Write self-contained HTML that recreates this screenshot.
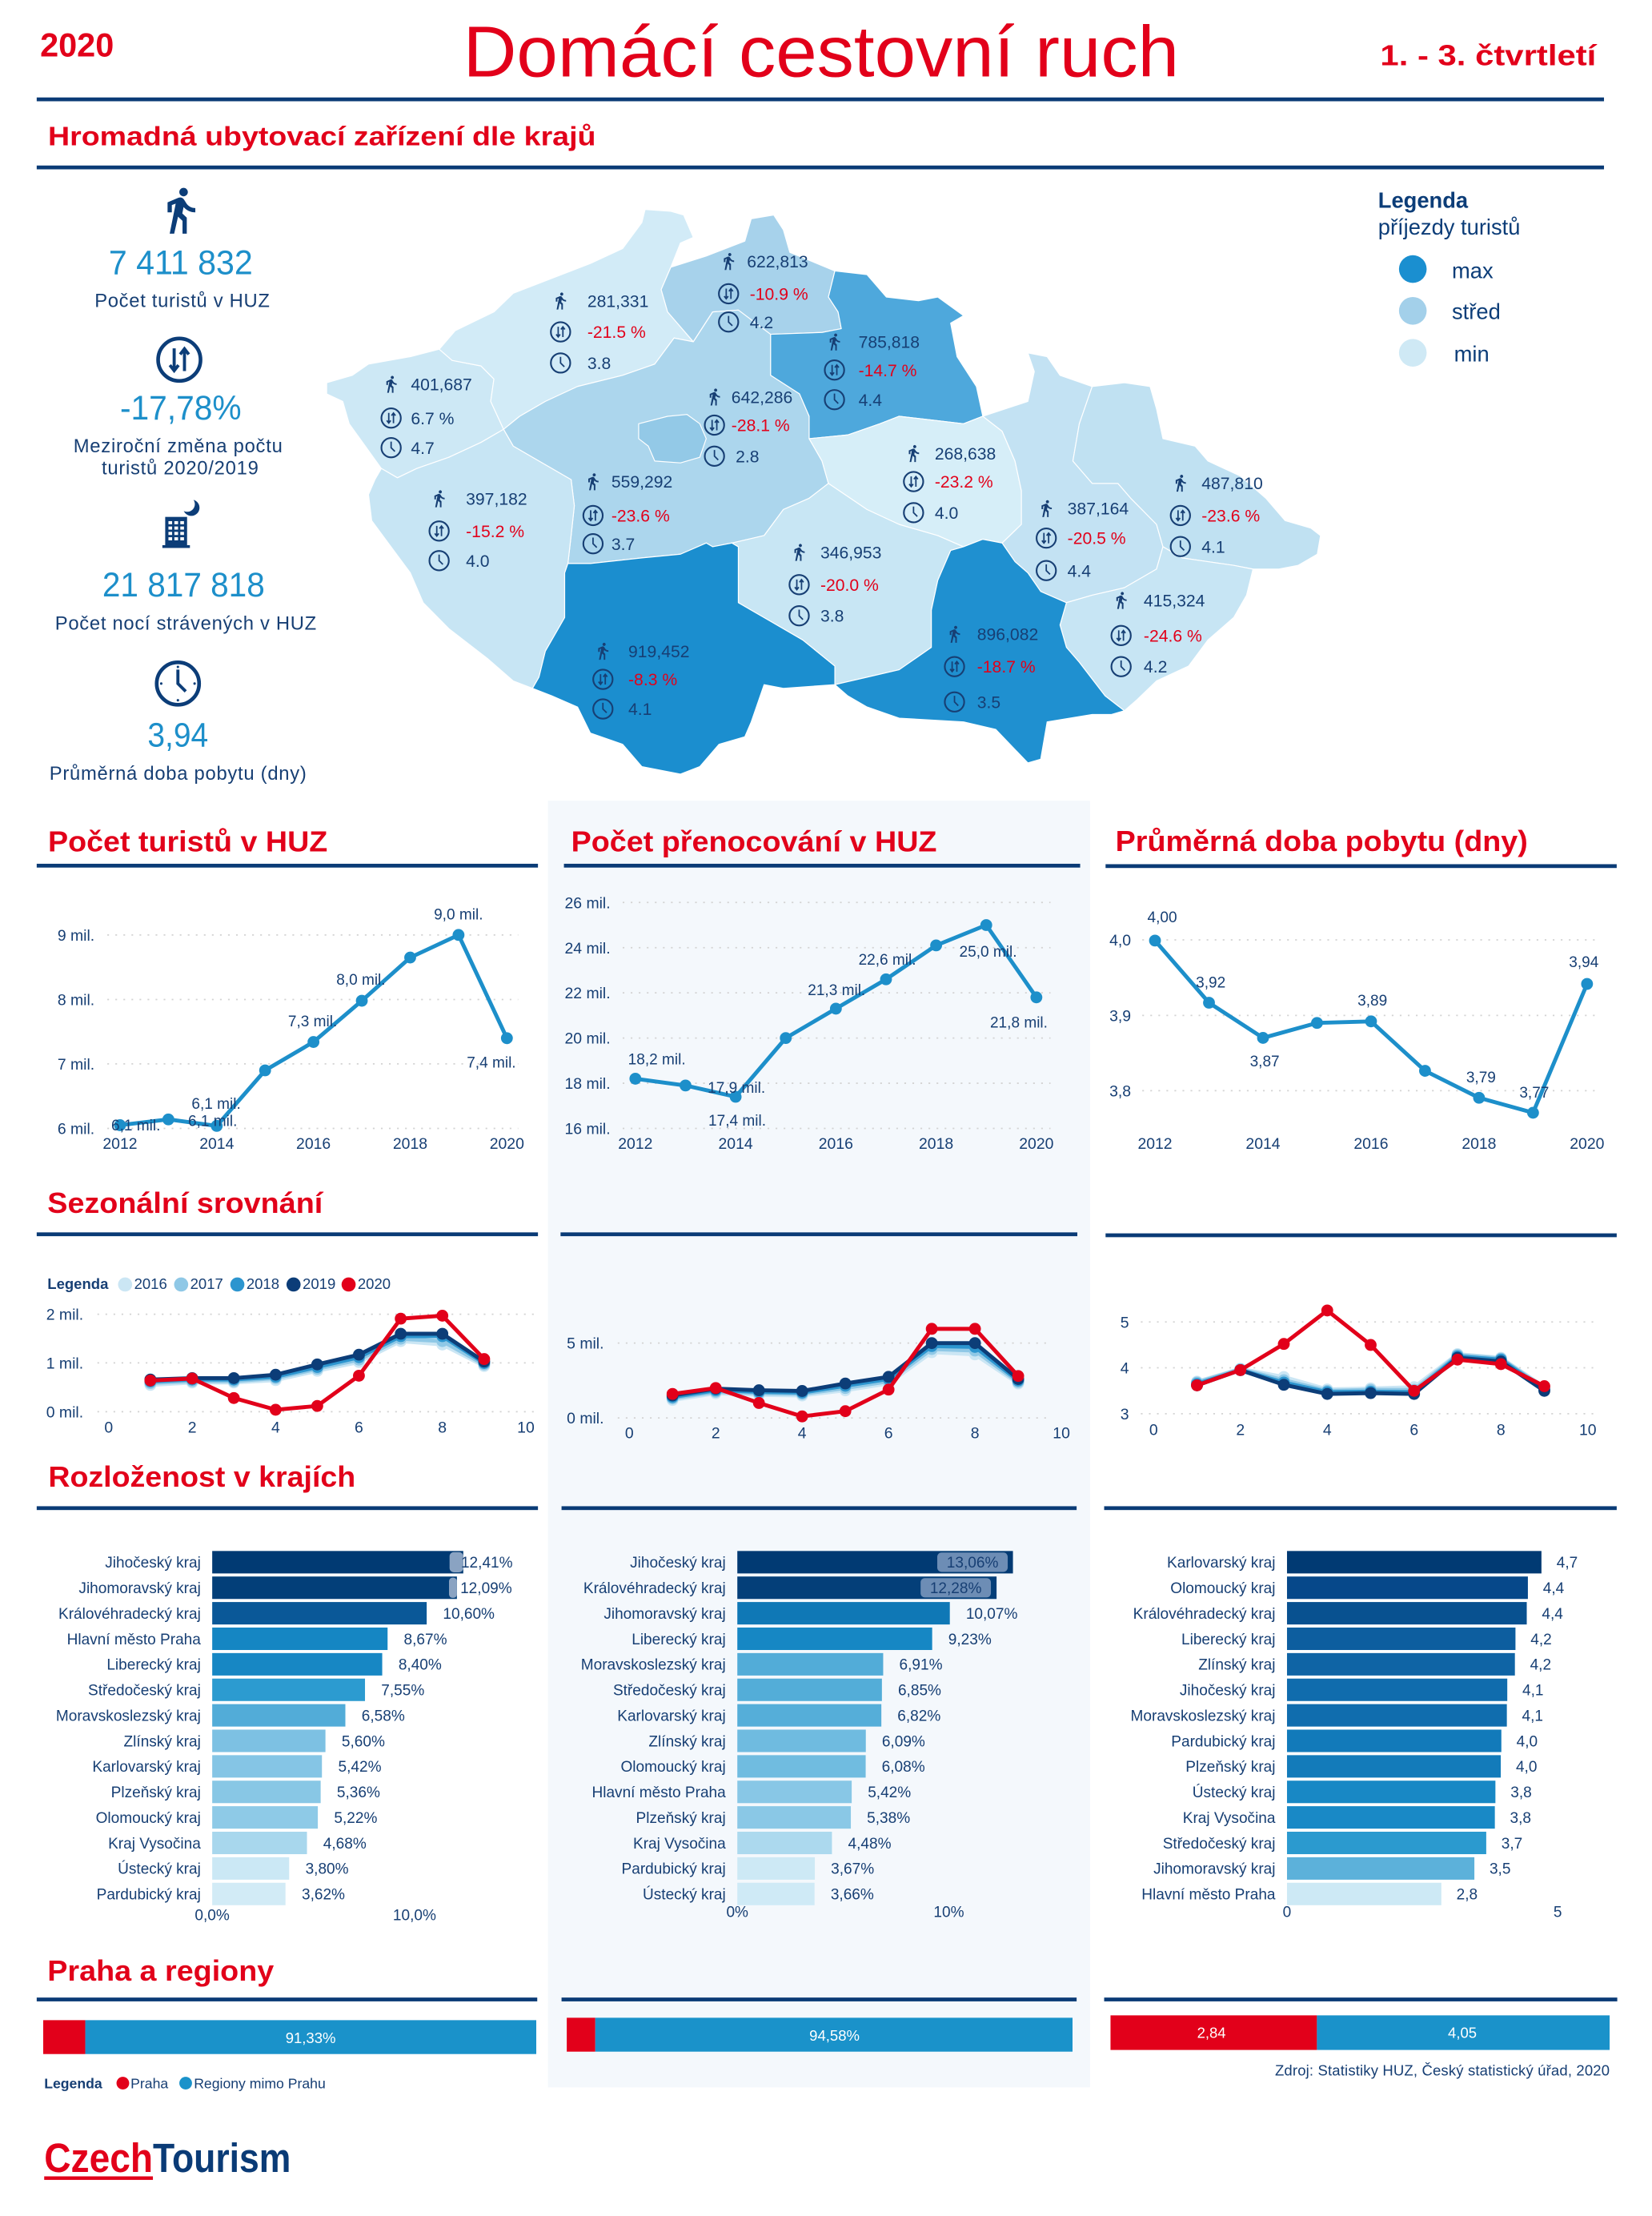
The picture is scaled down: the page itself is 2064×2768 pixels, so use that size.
<!DOCTYPE html>
<html><head><meta charset="utf-8">
<style>
html,body{margin:0;padding:0;background:#fff}
svg{display:block}
text{font-family:"Liberation Sans",Arial,sans-serif}
</style></head><body>
<svg xmlns="http://www.w3.org/2000/svg" width="2064" height="2768" viewBox="0 0 1170 1569.07">
<defs>
<symbol id="walk" viewBox="0 0 24 24"><path fill="currentColor" d="M13.5 5.5c1.1 0 2-.9 2-2s-.9-2-2-2-2 .9-2 2 .9 2 2 2zM9.8 8.9L7 23h2.1l1.8-8 2.1 2v6h2v-7.5l-2.1-2 .6-3C14.8 12 16.8 13 19 13v-2c-1.9 0-3.5-1-4.3-2.4l-1-1.6c-.4-.6-1-1-1.7-1-.3 0-.5.1-.8.1L6 8.3V13h2V9.6l1.8-.7"/></symbol>
<symbol id="ud" viewBox="0 0 24 24"><circle cx="12" cy="12" r="10.3" fill="none" stroke="currentColor" stroke-width="1.8"/><path d="M9.5 6.5v10.5M7.4 14.6l2.1 2.7 2.1-2.7M14.5 17.5V7M12.4 9.4l2.1-2.7 2.1 2.7" fill="none" stroke="currentColor" stroke-width="1.5"/></symbol>
<symbol id="clk" viewBox="0 0 24 24"><circle cx="12" cy="12" r="10.3" fill="none" stroke="currentColor" stroke-width="1.8"/><path d="M12 5.5V12l4 4" fill="none" stroke="currentColor" stroke-width="1.5"/></symbol>
<symbol id="clkb" viewBox="0 0 24 24"><circle cx="12" cy="12" r="10.3" fill="none" stroke="currentColor" stroke-width="1.8"/><path d="M12 5.2V12l3.8 3.8" fill="none" stroke="currentColor" stroke-width="1.5"/><circle cx="12" cy="3.9" r=".6" fill="currentColor"/><circle cx="12" cy="20.1" r=".6" fill="currentColor"/><circle cx="3.9" cy="12" r=".6" fill="currentColor"/><circle cx="20.1" cy="12" r=".6" fill="currentColor"/></symbol>
<marker id="mm" markerUnits="userSpaceOnUse" markerWidth="10" markerHeight="10" viewBox="0 0 10 10" refX="5" refY="5"><circle cx="5" cy="5" r="4.2" fill="#1d8fca"/></marker>
<marker id="m16" markerUnits="userSpaceOnUse" markerWidth="10" markerHeight="10" viewBox="0 0 10 10" refX="5" refY="5"><circle cx="5" cy="5" r="4.2" fill="#cbe6f4"/></marker>
<marker id="m17" markerUnits="userSpaceOnUse" markerWidth="10" markerHeight="10" viewBox="0 0 10 10" refX="5" refY="5"><circle cx="5" cy="5" r="4.2" fill="#8fc8e6"/></marker>
<marker id="m18" markerUnits="userSpaceOnUse" markerWidth="10" markerHeight="10" viewBox="0 0 10 10" refX="5" refY="5"><circle cx="5" cy="5" r="4.2" fill="#2c95cf"/></marker>
<marker id="m19" markerUnits="userSpaceOnUse" markerWidth="10" markerHeight="10" viewBox="0 0 10 10" refX="5" refY="5"><circle cx="5" cy="5" r="4.2" fill="#0c3d78"/></marker>
<marker id="m20" markerUnits="userSpaceOnUse" markerWidth="10" markerHeight="10" viewBox="0 0 10 10" refX="5" refY="5"><circle cx="5" cy="5" r="4.2" fill="#e2001a"/></marker>
</defs>
<rect width="1170" height="1569.07" fill="#fff"/>
<rect x="388" y="567" width="384" height="911" fill="#f4f8fc"/>

<!-- HEADER -->
<text x="28.4" y="40" font-size="23.5" font-weight="bold" fill="#e2001a">2020</text>
<text x="328" y="54" font-size="51" fill="#e2001a" textLength="507" lengthAdjust="spacingAndGlyphs">Domácí cestovní ruch</text>
<text x="977.5" y="46.3" font-size="20.5" font-weight="bold" fill="#e2001a" textLength="153" lengthAdjust="spacingAndGlyphs">1. - 3. čtvrtletí</text>
<rect x="26" y="69" width="1110" height="2.7" fill="#0a3b76"/>
<text x="34" y="103" font-size="19" font-weight="bold" fill="#e2001a" textLength="388" lengthAdjust="spacingAndGlyphs">Hromadná ubytovací zařízení dle krajů</text>
<rect x="26" y="117.2" width="1110" height="2.7" fill="#0a3b76"/>

<!-- LEFT STATS -->
<use href="#walk" x="109.6" y="130.7" width="36.3" height="36.3" style="color:#0c3d78"/>
<text x="128" y="194.2" font-size="24" fill="#1d8fca" text-anchor="middle" textLength="102" lengthAdjust="spacingAndGlyphs">7 411 832</text>
<text x="129" y="217.5" font-size="13.5" fill="#173f74" text-anchor="middle" textLength="124">Počet turistů v HUZ</text>
<use href="#ud" x="109.5" y="237.2" width="35" height="35" style="color:#0c3d78"/>
<text x="128" y="297" font-size="24" fill="#1d8fca" text-anchor="middle" textLength="86" lengthAdjust="spacingAndGlyphs">-17,78%</text>
<text x="126" y="320.3" font-size="13.5" fill="#173f74" text-anchor="middle" textLength="148">Meziroční změna počtu</text>
<text x="127.5" y="335.9" font-size="13.5" fill="#173f74" text-anchor="middle" textLength="111">turistů 2020/2019</text>
<rect x="117" y="366" width="15.5" height="21" fill="#0c3d78"/>
<rect x="115" y="386" width="19.5" height="2" fill="#0c3d78"/>
<g fill="#fff">
<rect x="119.3" y="369" width="2.6" height="2.2"/><rect x="123.5" y="369" width="2.6" height="2.2"/><rect x="127.7" y="369" width="2.6" height="2.2"/>
<rect x="119.3" y="372.8" width="2.6" height="2.2"/><rect x="123.5" y="372.8" width="2.6" height="2.2"/><rect x="127.7" y="372.8" width="2.6" height="2.2"/>
<rect x="119.3" y="376.6" width="2.6" height="2.2"/><rect x="123.5" y="376.6" width="2.6" height="2.2"/><rect x="127.7" y="376.6" width="2.6" height="2.2"/>
<rect x="119.3" y="380.4" width="2.6" height="2.2"/><rect x="123.5" y="380.4" width="2.6" height="2.2"/><rect x="127.7" y="380.4" width="2.6" height="2.2"/>
</g>
<circle cx="135.5" cy="359.5" r="5.8" fill="#0c3d78"/>
<circle cx="132.6" cy="357" r="5.4" fill="#fff"/>
<text x="130" y="422.3" font-size="24" fill="#1d8fca" text-anchor="middle" textLength="115" lengthAdjust="spacingAndGlyphs">21 817 818</text>
<text x="131.5" y="445.9" font-size="13.5" fill="#173f74" text-anchor="middle" textLength="185">Počet nocí strávených v HUZ</text>
<use href="#clkb" x="108.5" y="466.5" width="35" height="35" style="color:#0c3d78"/>
<text x="126" y="528.6" font-size="24" fill="#1d8fca" text-anchor="middle" textLength="43" lengthAdjust="spacingAndGlyphs">3,94</text>
<text x="126" y="552.1" font-size="13.5" fill="#173f74" text-anchor="middle" textLength="182">Průměrná doba pobytu (dny)</text>

<!-- MAP -->
<g transform="translate(226.8 141.7) scale(0.4556 0.2639)" stroke="#fff" stroke-width="1.2" stroke-linejoin="round">
<polygon vector-effect="non-scaling-stroke" fill="#cde8f5" points="10,490 50,470 75,440 140,420 185,400 205,430 250,445 270,480 265,540 285,615 250,650 200,690 150,720 120,745 95,720 70,660 45,600 35,540 10,520"/>
<polygon vector-effect="non-scaling-stroke" fill="#d2ebf7" points="185,400 210,350 270,300 300,250 360,210 420,170 470,130 500,60 505,25 545,30 565,40 580,100 560,115 545,180 530,240 540,300 560,340 580,380 550,370 520,440 470,470 400,500 350,540 310,580 285,615 265,540 270,480 250,445 205,430"/>
<polygon vector-effect="non-scaling-stroke" fill="#a7d2eb" points="545,180 600,150 660,110 670,50 705,40 720,80 730,140 800,190 790,260 805,300 810,345 780,355 700,360 650,295 610,300 580,380 560,340 540,300 530,240"/>
<polygon vector-effect="non-scaling-stroke" fill="#4ea8dc" points="800,190 850,200 880,260 930,270 960,260 1000,310 980,330 990,420 1020,500 1030,580 1000,600 950,590 900,580 870,600 820,630 760,640 760,580 745,520 700,470 700,360 780,355 810,345 805,300 790,260"/>
<polygon vector-effect="non-scaling-stroke" fill="#acd6ed" points="285,615 310,580 350,540 400,500 470,470 520,440 550,370 580,380 610,300 650,295 700,360 700,470 745,520 760,580 760,640 780,700 790,760 760,800 720,830 690,900 640,920 610,930 600,920 560,950 500,960 420,975 385,975 390,900 395,820 390,750 340,700 300,660"/>
<polygon vector-effect="non-scaling-stroke" fill="#93c9e7" points="495,600 540,580 570,575 590,600 600,640 590,690 560,705 520,700 510,660 495,640"/>
<polygon vector-effect="non-scaling-stroke" fill="#c7e5f4" points="95,720 120,745 150,720 200,690 250,650 285,615 300,660 340,700 390,750 395,820 390,900 385,975 380,1000 380,1120 350,1210 340,1280 330,1310 300,1290 260,1230 200,1150 160,1080 140,1000 110,930 80,860 75,790 85,750"/>
<polygon vector-effect="non-scaling-stroke" fill="#1b8ecf" points="385,975 420,975 500,960 560,950 600,920 610,930 640,920 650,930 650,1080 700,1130 750,1180 800,1250 800,1300 720,1310 690,1300 670,1400 660,1440 620,1460 590,1520 560,1540 500,1520 470,1460 420,1430 400,1360 360,1330 330,1310 340,1280 350,1210 380,1120 380,1000"/>
<polygon vector-effect="non-scaling-stroke" fill="#c8e6f4" points="640,920 690,900 720,830 760,800 790,760 850,830 900,870 960,900 1000,930 980,940 960,1020 950,1100 950,1200 900,1260 850,1280 800,1300 800,1250 750,1180 700,1130 650,1080 650,930"/>
<polygon vector-effect="non-scaling-stroke" fill="#d6eef8" points="760,640 820,630 870,600 900,580 950,590 1000,600 1030,580 1060,620 1080,700 1090,780 1090,870 1060,920 1030,910 1000,930 960,900 900,870 850,830 790,760 780,700"/>
<polygon vector-effect="non-scaling-stroke" fill="#c3e2f3" points="1030,580 1100,540 1110,460 1100,410 1130,420 1150,470 1200,500 1180,600 1170,700 1200,760 1240,760 1260,800 1300,870 1310,930 1300,990 1250,1040 1200,1060 1160,1080 1120,1050 1100,1000 1080,970 1060,920 1090,870 1090,780 1080,700 1060,620"/>
<polygon vector-effect="non-scaling-stroke" fill="#c0e1f2" points="1200,500 1250,490 1290,500 1300,560 1310,640 1360,660 1380,700 1430,740 1470,800 1500,860 1540,880 1555,900 1550,950 1520,980 1490,990 1450,990 1420,980 1380,970 1340,960 1310,930 1300,870 1260,800 1240,760 1200,760 1170,700 1180,600"/>
<polygon vector-effect="non-scaling-stroke" fill="#c7e5f4" points="1310,930 1340,960 1380,970 1420,980 1450,990 1440,1060 1420,1120 1380,1180 1350,1250 1300,1290 1270,1340 1250,1370 1220,1330 1180,1240 1160,1200 1150,1140 1160,1080 1200,1060 1250,1040 1300,990"/>
<polygon vector-effect="non-scaling-stroke" fill="#1f90d0" points="1000,930 1030,910 1060,920 1080,970 1100,1000 1120,1050 1160,1080 1150,1140 1160,1200 1180,1240 1220,1330 1250,1370 1230,1380 1200,1380 1130,1400 1120,1500 1100,1510 1050,1420 1000,1400 900,1390 850,1360 820,1330 800,1300 850,1280 900,1260 950,1200 950,1100 960,1020 980,940"/>
</g>

<!-- MAP LABELS -->
<g font-size="12" fill="#173f74" style="color:#173f74">
<use href="#walk" x="270.3" y="265.3" width="13.4" height="13.4"/><text x="291" y="276.3">401,687</text>
<use href="#ud" x="269" y="288" width="16" height="16"/><text x="291" y="300.3">6.7 %</text>
<use href="#clk" x="269" y="309" width="16" height="16"/><text x="291" y="321.3">4.7</text>

<use href="#walk" x="390.3" y="206.3" width="13.4" height="13.4"/><text x="416" y="217.3">281,331</text>
<use href="#ud" x="389" y="227" width="16" height="16"/><text x="416" y="239.3" fill="#e2001a">-21.5 %</text>
<use href="#clk" x="389" y="249" width="16" height="16"/><text x="416" y="261.3">3.8</text>

<use href="#walk" x="509.3" y="178.3" width="13.4" height="13.4"/><text x="529" y="189.3">622,813</text>
<use href="#ud" x="508" y="200" width="16" height="16"/><text x="531" y="212.3" fill="#e2001a">-10.9 %</text>
<use href="#clk" x="508" y="220" width="16" height="16"/><text x="531" y="232.3">4.2</text>

<use href="#walk" x="584.3" y="235.3" width="13.4" height="13.4"/><text x="608" y="246.3">785,818</text>
<use href="#ud" x="583" y="254" width="16" height="16"/><text x="608" y="266.3" fill="#e2001a">-14.7 %</text>
<use href="#clk" x="583" y="275" width="16" height="16"/><text x="608" y="287.3">4.4</text>

<use href="#walk" x="499.3" y="274.3" width="13.4" height="13.4"/><text x="518" y="285.3">642,286</text>
<use href="#ud" x="498" y="293" width="16" height="16"/><text x="518" y="305.3" fill="#e2001a">-28.1 %</text>
<use href="#clk" x="498" y="315" width="16" height="16"/><text x="521" y="327.3">2.8</text>

<use href="#walk" x="413.3" y="334.3" width="13.4" height="13.4"/><text x="433" y="345.3">559,292</text>
<use href="#ud" x="412" y="357" width="16" height="16"/><text x="433" y="369.3" fill="#e2001a">-23.6 %</text>
<use href="#clk" x="412" y="377" width="16" height="16"/><text x="433" y="389.3">3.7</text>

<use href="#walk" x="304.3" y="346.3" width="13.4" height="13.4"/><text x="330" y="357.3">397,182</text>
<use href="#ud" x="303" y="368" width="16" height="16"/><text x="330" y="380.3" fill="#e2001a">-15.2 %</text>
<use href="#clk" x="303" y="389" width="16" height="16"/><text x="330" y="401.3">4.0</text>

<use href="#walk" x="640.3" y="314.3" width="13.4" height="13.4"/><text x="662" y="325.3">268,638</text>
<use href="#ud" x="639" y="333" width="16" height="16"/><text x="662" y="345.3" fill="#e2001a">-23.2 %</text>
<use href="#clk" x="639" y="355" width="16" height="16"/><text x="662" y="367.3">4.0</text>

<use href="#walk" x="559.3" y="384.3" width="13.4" height="13.4"/><text x="581" y="395.3">346,953</text>
<use href="#ud" x="558" y="406" width="16" height="16"/><text x="581" y="418.3" fill="#e2001a">-20.0 %</text>
<use href="#clk" x="558" y="428" width="16" height="16"/><text x="581" y="440.3">3.8</text>

<use href="#walk" x="420.3" y="454.3" width="13.4" height="13.4"/><text x="445" y="465.3">919,452</text>
<use href="#ud" x="419" y="473" width="16" height="16"/><text x="445" y="485.3" fill="#e2001a">-8.3 %</text>
<use href="#clk" x="419" y="494" width="16" height="16"/><text x="445" y="506.3">4.1</text>

<use href="#walk" x="669.3" y="442.3" width="13.4" height="13.4"/><text x="692" y="453.3">896,082</text>
<use href="#ud" x="668" y="464" width="16" height="16"/><text x="692" y="476.3" fill="#e2001a">-18.7 %</text>
<use href="#clk" x="668" y="489" width="16" height="16"/><text x="692" y="501.3">3.5</text>

<use href="#walk" x="734.3" y="353.3" width="13.4" height="13.4"/><text x="756" y="364.3">387,164</text>
<use href="#ud" x="733" y="373" width="16" height="16"/><text x="756" y="385.3" fill="#e2001a">-20.5 %</text>
<use href="#clk" x="733" y="396" width="16" height="16"/><text x="756" y="408.3">4.4</text>

<use href="#walk" x="829.3" y="335.3" width="13.4" height="13.4"/><text x="851" y="346.3">487,810</text>
<use href="#ud" x="828" y="357" width="16" height="16"/><text x="851" y="369.3" fill="#e2001a">-23.6 %</text>
<use href="#clk" x="828" y="379" width="16" height="16"/><text x="851" y="391.3">4.1</text>

<use href="#walk" x="787.3" y="418.3" width="13.4" height="13.4"/><text x="810" y="429.3">415,324</text>
<use href="#ud" x="786" y="442" width="16" height="16"/><text x="810" y="454.3" fill="#e2001a">-24.6 %</text>
<use href="#clk" x="786" y="464" width="16" height="16"/><text x="810" y="476.3">4.2</text>
</g>

<!-- MAP LEGEND -->
<text x="976" y="147" font-size="15.5" font-weight="bold" fill="#0c3d78">Legenda</text>
<text x="976" y="166" font-size="15.5" fill="#0c3d78">příjezdy turistů</text>
<circle cx="1000.6" cy="190.5" r="9.8" fill="#1a8fd0"/>
<circle cx="1000.6" cy="220.1" r="9.8" fill="#a3d0ea"/>
<circle cx="1000.6" cy="249.8" r="9.8" fill="#cfe9f5"/>
<text x="1028.3" y="196.9" font-size="15.5" fill="#0c3d78">max</text>
<text x="1028.3" y="225.8" font-size="15.5" fill="#0c3d78">střed</text>
<text x="1029.8" y="256" font-size="15.5" fill="#0c3d78">min</text>

<!-- ROW 1 TITLES -->
<text x="34" y="602.8" font-size="20.5" font-weight="bold" fill="#e2001a" textLength="198" lengthAdjust="spacingAndGlyphs">Počet turistů v HUZ</text>
<text x="404.5" y="602.8" font-size="20.5" font-weight="bold" fill="#e2001a" textLength="259" lengthAdjust="spacingAndGlyphs">Počet přenocování v HUZ</text>
<text x="790" y="602.5" font-size="20.5" font-weight="bold" fill="#e2001a" textLength="292" lengthAdjust="spacingAndGlyphs">Průměrná doba pobytu (dny)</text>
<rect x="26" y="611.6" width="355" height="2.7" fill="#0a3b76"/>
<rect x="399.4" y="611.6" width="365.6" height="2.7" fill="#0a3b76"/>
<rect x="783" y="611.9" width="362" height="2.7" fill="#0a3b76"/>

<!-- GRIDLINES -->
<g stroke="#d3d3d3" stroke-width="1" stroke-dasharray="1.2 4.5">
<line x1="76" y1="662" x2="367" y2="662"/><line x1="76" y1="707.7" x2="367" y2="707.7"/><line x1="76" y1="753.3" x2="367" y2="753.3"/><line x1="76" y1="799" x2="367" y2="799"/>
<line x1="441" y1="639" x2="744" y2="639"/><line x1="441" y1="671" x2="744" y2="671"/><line x1="441" y1="703" x2="744" y2="703"/><line x1="441" y1="735" x2="744" y2="735"/><line x1="441" y1="767" x2="744" y2="767"/><line x1="441" y1="799" x2="744" y2="799"/>
<line x1="809" y1="665.5" x2="1132" y2="665.5"/><line x1="809" y1="719" x2="1132" y2="719"/><line x1="809" y1="772.3" x2="1132" y2="772.3"/>
<line x1="69" y1="930.6" x2="380" y2="930.6"/><line x1="69" y1="965" x2="380" y2="965"/><line x1="69" y1="999.6" x2="380" y2="999.6"/>
<line x1="437.5" y1="951" x2="744" y2="951"/><line x1="437.5" y1="1004" x2="744" y2="1004"/>
<line x1="808" y1="936" x2="1132" y2="936"/><line x1="808" y1="968.5" x2="1132" y2="968.5"/><line x1="808" y1="1001" x2="1132" y2="1001"/>
</g>
<g font-size="11" fill="#173f74">
<g text-anchor="end">
<text x="67" y="666">9 mil.</text><text x="67" y="711.7">8 mil.</text><text x="67" y="757.3">7 mil.</text><text x="67" y="803">6 mil.</text>
<text x="432.3" y="643">26 mil.</text><text x="432.3" y="675">24 mil.</text><text x="432.3" y="707">22 mil.</text><text x="432.3" y="739">20 mil.</text><text x="432.3" y="771">18 mil.</text><text x="432.3" y="803">16 mil.</text>
<text x="801" y="669.5">4,0</text><text x="801" y="723">3,9</text><text x="801" y="776.3">3,8</text>
<text x="59" y="934.6">2 mil.</text><text x="59" y="969">1 mil.</text><text x="59" y="1003.6">0 mil.</text>
<text x="427.7" y="955">5 mil.</text><text x="427.7" y="1008">0 mil.</text>
</g>
<g text-anchor="middle">
<text x="85" y="813.5">2012</text><text x="153.5" y="813.5">2014</text><text x="222" y="813.5">2016</text><text x="290.5" y="813.5">2018</text><text x="359" y="813.5">2020</text>
<text x="450" y="813.5">2012</text><text x="521" y="813.5">2014</text><text x="592" y="813.5">2016</text><text x="663" y="813.5">2018</text><text x="734" y="813.5">2020</text>
<text x="818" y="813.5">2012</text><text x="894.5" y="813.5">2014</text><text x="971" y="813.5">2016</text><text x="1047.5" y="813.5">2018</text><text x="1124" y="813.5">2020</text>
<text x="796.5" y="940">5</text><text x="796.5" y="972.5">4</text><text x="796.5" y="1005">3</text>
<text x="77" y="1014.5">0</text><text x="136.1" y="1014.5">2</text><text x="195.2" y="1014.5">4</text><text x="254.2" y="1014.5">6</text><text x="313.3" y="1014.5">8</text><text x="372.4" y="1014.5">10</text>
<text x="445.7" y="1018.5">0</text><text x="506.9" y="1018.5">2</text><text x="568.1" y="1018.5">4</text><text x="629.3" y="1018.5">6</text><text x="690.5" y="1018.5">8</text><text x="751.7" y="1018.5">10</text>
<text x="817" y="1016">0</text><text x="878.5" y="1016">2</text><text x="940" y="1016">4</text><text x="1001.5" y="1016">6</text><text x="1063" y="1016">8</text><text x="1124.5" y="1016">10</text>
</g>
</g>

<g fill="none" stroke-width="2.8" stroke-linejoin="round">
<polyline stroke="#1d8fca" marker-start="url(#mm)" marker-mid="url(#mm)" marker-end="url(#mm)" points="85,796.7 119.25,792.6 153.5,797.2 187.75,757.9 222,737.8 256.25,708.6 290.5,678 324.75,662 359,735.1"/>
<polyline stroke="#1d8fca" marker-start="url(#mm)" marker-mid="url(#mm)" marker-end="url(#mm)" points="450,763.8 485.5,768.6 521,776.6 556.5,735 592,714.2 627.5,693.4 663,669.4 698.5,655 734,706.2"/>
<polyline stroke="#1d8fca" marker-start="url(#mm)" marker-mid="url(#mm)" marker-end="url(#mm)" points="818,666 856.25,710 894.5,734.9 932.75,724.3 971,723.2 1009.25,758.2 1047.5,777.3 1085.75,787.9 1124,696.7"/>
</g>
<g font-size="10.8" fill="#173f74" text-anchor="middle">
<text x="324.7" y="651">9,0 mil.</text><text x="255.6" y="697.3">8,0 mil.</text><text x="221.4" y="726.6">7,3 mil.</text><text x="153.1" y="785.2">6,1 mil.</text><text x="150.6" y="797.4">6,1 mil.</text><text x="96.2" y="800.3">6,1 mil.</text><text x="348" y="755.8">7,4 mil.</text>
<text x="465.2" y="753.6">18,2 mil.</text><text x="521.6" y="773.8">17,9 mil.</text><text x="522.1" y="797">17,4 mil.</text><text x="592.5" y="704.5">21,3 mil.</text><text x="628.4" y="683.1">22,6 mil.</text><text x="699.8" y="677.4">25,0 mil.</text><text x="721.6" y="727.5">21,8 mil.</text>
<text x="823.1" y="653.1">4,00</text><text x="857.5" y="699.1">3,92</text><text x="895.7" y="755.1">3,87</text><text x="972" y="712.1">3,89</text><text x="1048.9" y="766.4">3,79</text><text x="1086.6" y="777.3">3,77</text><text x="1121.7" y="684.8">3,94</text>
</g>

<!-- SEASONAL -->
<text x="33.6" y="858.8" font-size="20.5" font-weight="bold" fill="#e2001a" textLength="195" lengthAdjust="spacingAndGlyphs">Sezonální srovnání</text>
<rect x="26" y="872.6" width="355" height="2.7" fill="#0a3b76"/>
<rect x="397" y="872.6" width="366" height="2.7" fill="#0a3b76"/>
<rect x="783" y="873.3" width="362" height="2.7" fill="#0a3b76"/>
<text x="33.6" y="912.7" font-size="10.5" font-weight="bold" fill="#173f74">Legenda</text>
<circle cx="88.6" cy="909.5" r="5" fill="#cbe6f4"/><text x="95" y="912.7" font-size="10.5" fill="#173f74">2016</text>
<circle cx="128.3" cy="909.5" r="5" fill="#8fc8e6"/><text x="134.7" y="912.7" font-size="10.5" fill="#173f74">2017</text>
<circle cx="168.1" cy="909.5" r="5" fill="#2c95cf"/><text x="174.5" y="912.7" font-size="10.5" fill="#173f74">2018</text>
<circle cx="207.9" cy="909.5" r="5" fill="#0c3d78"/><text x="214.3" y="912.7" font-size="10.5" fill="#173f74">2019</text>
<circle cx="246.9" cy="909.5" r="5" fill="#e2001a"/><text x="253.3" y="912.7" font-size="10.5" fill="#173f74">2020</text>

<g fill="none" stroke-width="2.8" stroke-linejoin="round">
<polyline stroke="#cbe6f4" marker-start="url(#m16)" marker-mid="url(#m16)" marker-end="url(#m16)" points="106.5,980.6 136.1,978.9 165.6,978.9 195.2,977.2 224.7,970.6 254.2,964.4 283.8,949.6 313.3,952 342.9,967.2"/>
<polyline stroke="#8fc8e6" marker-start="url(#m17)" marker-mid="url(#m17)" marker-end="url(#m17)" points="106.5,979.3 136.1,977.9 165.6,977.9 195.2,975.8 224.7,969.2 254.2,962.7 283.8,947.9 313.3,949.6 342.9,966.1"/>
<polyline stroke="#2c95cf" marker-start="url(#m18)" marker-mid="url(#m18)" marker-end="url(#m18)" points="106.5,978.2 136.1,976.8 165.6,976.8 195.2,974.8 224.7,967.9 254.2,961 283.8,946.1 313.3,946.1 342.9,965.1"/>
<polyline stroke="#0c3d78" marker-start="url(#m19)" marker-mid="url(#m19)" marker-end="url(#m19)" points="106.5,976.8 136.1,975.8 165.6,975.8 195.2,973.4 224.7,966.1 254.2,959.2 283.8,944.4 313.3,944.4 342.9,964.1"/>
<polyline stroke="#e2001a" marker-start="url(#m20)" marker-mid="url(#m20)" marker-end="url(#m20)" points="106.5,977.5 136.1,976.1 165.6,989.9 195.2,998.2 224.7,995.5 254.2,974.1 283.8,933.7 313.3,931.6 342.9,962.3"/>

<polyline stroke="#cbe6f4" marker-start="url(#m16)" marker-mid="url(#m16)" marker-end="url(#m16)" points="476.3,991.3 506.9,986.5 537.5,987.6 568.1,988.1 598.7,984.4 629.3,979.6 659.9,957.4 690.5,959 721.1,979.6"/>
<polyline stroke="#8fc8e6" marker-start="url(#m17)" marker-mid="url(#m17)" marker-end="url(#m17)" points="476.3,990.2 506.9,985.5 537.5,986.5 568.1,987 598.7,982.8 629.3,978 659.9,955.2 690.5,956.3 721.1,978.6"/>
<polyline stroke="#2c95cf" marker-start="url(#m18)" marker-mid="url(#m18)" marker-end="url(#m18)" points="476.3,989.2 506.9,984.4 537.5,985.5 568.1,986 598.7,981.2 629.3,976.4 659.9,953.1 690.5,953.7 721.1,977.5"/>
<polyline stroke="#0c3d78" marker-start="url(#m19)" marker-mid="url(#m19)" marker-end="url(#m19)" points="476.3,988.1 506.9,983.3 537.5,984.4 568.1,984.9 598.7,979.6 629.3,974.9 659.9,951 690.5,951 721.1,976.4"/>
<polyline stroke="#e2001a" marker-start="url(#m20)" marker-mid="url(#m20)" marker-end="url(#m20)" points="476.3,987 506.9,982.8 537.5,993.4 568.1,1002.9 598.7,999.2 629.3,983.9 659.9,940.9 690.5,940.9 721.1,974.3"/>

<polyline stroke="#cbe6f4" marker-start="url(#m16)" marker-mid="url(#m16)" marker-end="url(#m16)" points="847.75,978.3 878.5,969.2 909.25,975 940,983.8 970.75,983.1 1001.5,982.2 1032.25,958.8 1063,961.4 1093.75,982.2"/>
<polyline stroke="#8fc8e6" marker-start="url(#m17)" marker-mid="url(#m17)" marker-end="url(#m17)" points="847.75,978.9 878.5,969.5 909.25,977.3 940,984.8 970.75,984.1 1001.5,984.1 1032.25,959.4 1063,962 1093.75,982.8"/>
<polyline stroke="#2c95cf" marker-start="url(#m18)" marker-mid="url(#m18)" marker-end="url(#m18)" points="847.75,979.9 878.5,970.1 909.25,978.9 940,985.7 970.75,985.4 1001.5,985.7 1032.25,960.4 1063,962.7 1093.75,983.8"/>
<polyline stroke="#0c3d78" marker-start="url(#m19)" marker-mid="url(#m19)" marker-end="url(#m19)" points="847.75,980.9 878.5,970.1 909.25,980.5 940,987 970.75,986.4 1001.5,987 1032.25,961.4 1063,964 1093.75,984.8"/>
<polyline stroke="#e2001a" marker-start="url(#m20)" marker-mid="url(#m20)" marker-end="url(#m20)" points="847.75,980.9 878.5,970.1 909.25,951.6 940,927.9 970.75,952.3 1001.5,984.8 1032.25,962.7 1063,965.9 1093.75,981.5"/>
</g>

<!-- ROZLOZENOST -->
<text x="34.2" y="1052.7" font-size="20.5" font-weight="bold" fill="#e2001a" textLength="217.6" lengthAdjust="spacingAndGlyphs">Rozloženost v krajích</text>
<rect x="26" y="1066.5" width="355" height="2.7" fill="#0a3b76"/>
<rect x="397.7" y="1066.5" width="364.8" height="2.7" fill="#0a3b76"/>
<rect x="782" y="1066.5" width="363" height="2.7" fill="#0a3b76"/>

<!-- col1 bars -->
<g>
<rect x="150.3" y="1098.2" width="177.8" height="15.9" fill="#013a73"/>
<rect x="150.3" y="1116.27" width="173.3" height="15.9" fill="#033f79"/>
<rect x="150.3" y="1134.34" width="151.9" height="15.9" fill="#0a5898"/>
<rect x="150.3" y="1152.41" width="124.2" height="15.9" fill="#1586c3"/>
<rect x="150.3" y="1170.48" width="120.4" height="15.9" fill="#1787c4"/>
<rect x="150.3" y="1188.55" width="108.2" height="15.9" fill="#2c9bd0"/>
<rect x="150.3" y="1206.62" width="94.3" height="15.9" fill="#52acd8"/>
<rect x="150.3" y="1224.69" width="80.2" height="15.9" fill="#7dc1e3"/>
<rect x="150.3" y="1242.76" width="77.7" height="15.9" fill="#85c5e5"/>
<rect x="150.3" y="1260.83" width="76.8" height="15.9" fill="#88c7e5"/>
<rect x="150.3" y="1278.9" width="74.8" height="15.9" fill="#8ecae7"/>
<rect x="150.3" y="1296.97" width="67.1" height="15.9" fill="#a8d7ed"/>
<rect x="150.3" y="1315.04" width="54.5" height="15.9" fill="#cbe8f5"/>
<rect x="150.3" y="1333.11" width="51.9" height="15.9" fill="#d2ebf6"/>
<rect x="318.4" y="1099" width="9.7" height="14.3" rx="3" fill="#8aa3c2"/>
<rect x="318" y="1117.1" width="5.6" height="14.3" rx="2.5" fill="#8aa3c2"/>
</g>
<g font-size="10.8" fill="#173f74">
<g text-anchor="end">
<text x="142.2" y="1110">Jihočeský kraj</text><text x="142.2" y="1128.1">Jihomoravský kraj</text><text x="142.2" y="1146.1">Královéhradecký kraj</text><text x="142.2" y="1164.2">Hlavní město Praha</text><text x="142.2" y="1182.3">Liberecký kraj</text><text x="142.2" y="1200.4">Středočeský kraj</text><text x="142.2" y="1218.4">Moravskoslezský kraj</text><text x="142.2" y="1236.5">Zlínský kraj</text><text x="142.2" y="1254.6">Karlovarský kraj</text><text x="142.2" y="1272.6">Plzeňský kraj</text><text x="142.2" y="1290.7">Olomoucký kraj</text><text x="142.2" y="1308.8">Kraj Vysočina</text><text x="142.2" y="1326.8">Ústecký kraj</text><text x="142.2" y="1344.9">Pardubický kraj</text>
</g>
<text x="326.5" y="1110">12,41%</text><text x="326" y="1128.1">12,09%</text><text x="313.7" y="1146.1">10,60%</text><text x="286" y="1164.2">8,67%</text><text x="282.2" y="1182.3">8,40%</text><text x="270" y="1200.4">7,55%</text><text x="256.1" y="1218.4">6,58%</text><text x="242" y="1236.5">5,60%</text><text x="239.5" y="1254.6">5,42%</text><text x="238.6" y="1272.6">5,36%</text><text x="236.6" y="1290.7">5,22%</text><text x="228.9" y="1308.8">4,68%</text><text x="216.3" y="1326.8">3,80%</text><text x="213.7" y="1344.9">3,62%</text>
<text x="150.3" y="1359.5" text-anchor="middle">0,0%</text><text x="293.6" y="1359.5" text-anchor="middle">10,0%</text>
</g>

<!-- col2 bars -->
<g>
<rect x="522.2" y="1098.2" width="195.2" height="15.9" fill="#013a73"/>
<rect x="522.2" y="1116.27" width="183.6" height="15.9" fill="#043f79"/>
<rect x="522.2" y="1134.34" width="150.5" height="15.9" fill="#0f78b6"/>
<rect x="522.2" y="1152.41" width="138" height="15.9" fill="#1687c4"/>
<rect x="522.2" y="1170.48" width="103.3" height="15.9" fill="#52acd8"/>
<rect x="522.2" y="1188.55" width="102.4" height="15.9" fill="#53add8"/>
<rect x="522.2" y="1206.62" width="102" height="15.9" fill="#55aed9"/>
<rect x="522.2" y="1224.69" width="91" height="15.9" fill="#6fbbe0"/>
<rect x="522.2" y="1242.76" width="90.9" height="15.9" fill="#70bce0"/>
<rect x="522.2" y="1260.83" width="81" height="15.9" fill="#88c7e6"/>
<rect x="522.2" y="1278.9" width="80.4" height="15.9" fill="#8ac8e6"/>
<rect x="522.2" y="1296.97" width="67" height="15.9" fill="#acd9ee"/>
<rect x="522.2" y="1315.04" width="54.9" height="15.9" fill="#cde9f5"/>
<rect x="522.2" y="1333.11" width="54.7" height="15.9" fill="#cfeaf6"/>
<rect x="663.8" y="1099.3" width="49.9" height="13.7" rx="3" fill="#6d8db5"/>
<rect x="652" y="1117.4" width="49.8" height="13.7" rx="3" fill="#6d8db5"/>
</g>
<g font-size="10.8" fill="#173f74">
<g text-anchor="end">
<text x="514" y="1110">Jihočeský kraj</text><text x="514" y="1128.1">Královéhradecký kraj</text><text x="514" y="1146.1">Jihomoravský kraj</text><text x="514" y="1164.2">Liberecký kraj</text><text x="514" y="1182.3">Moravskoslezský kraj</text><text x="514" y="1200.4">Středočeský kraj</text><text x="514" y="1218.4">Karlovarský kraj</text><text x="514" y="1236.5">Zlínský kraj</text><text x="514" y="1254.6">Olomoucký kraj</text><text x="514" y="1272.6">Hlavní město Praha</text><text x="514" y="1290.7">Plzeňský kraj</text><text x="514" y="1308.8">Kraj Vysočina</text><text x="514" y="1326.8">Pardubický kraj</text><text x="514" y="1344.9">Ústecký kraj</text>
</g>
<text x="688.8" y="1110" text-anchor="middle">13,06%</text><text x="676.9" y="1128.1" text-anchor="middle">12,28%</text>
<text x="684.1" y="1146.1">10,07%</text><text x="671.6" y="1164.2">9,23%</text><text x="636.9" y="1182.3">6,91%</text><text x="636" y="1200.4">6,85%</text><text x="635.6" y="1218.4">6,82%</text><text x="624.6" y="1236.5">6,09%</text><text x="624.5" y="1254.6">6,08%</text><text x="614.6" y="1272.6">5,42%</text><text x="614" y="1290.7">5,38%</text><text x="600.6" y="1308.8">4,48%</text><text x="588.5" y="1326.8">3,67%</text><text x="588.3" y="1344.9">3,66%</text>
<text x="522.2" y="1357.3" text-anchor="middle">0%</text><text x="672" y="1357.3" text-anchor="middle">10%</text>
</g>

<!-- col3 bars -->
<g>
<rect x="911.5" y="1098.2" width="180.2" height="15.9" fill="#013a73"/>
<rect x="911.5" y="1116.27" width="170.6" height="15.9" fill="#06488a"/>
<rect x="911.5" y="1134.34" width="169.8" height="15.9" fill="#085190"/>
<rect x="911.5" y="1152.41" width="161.8" height="15.9" fill="#0d5e9f"/>
<rect x="911.5" y="1170.48" width="161.4" height="15.9" fill="#0f64a5"/>
<rect x="911.5" y="1188.55" width="156" height="15.9" fill="#106cad"/>
<rect x="911.5" y="1206.62" width="155.7" height="15.9" fill="#106dae"/>
<rect x="911.5" y="1224.69" width="151.8" height="15.9" fill="#127aba"/>
<rect x="911.5" y="1242.76" width="151.4" height="15.9" fill="#137bba"/>
<rect x="911.5" y="1260.83" width="147.6" height="15.9" fill="#1888c5"/>
<rect x="911.5" y="1278.9" width="147.2" height="15.9" fill="#1989c6"/>
<rect x="911.5" y="1296.97" width="141.1" height="15.9" fill="#2b9acf"/>
<rect x="911.5" y="1315.04" width="132.7" height="15.9" fill="#5cb1da"/>
<rect x="911.5" y="1333.11" width="109.3" height="15.9" fill="#cde9f5"/>
</g>
<g font-size="10.8" fill="#173f74">
<g text-anchor="end">
<text x="903.3" y="1110">Karlovarský kraj</text><text x="903.3" y="1128.1">Olomoucký kraj</text><text x="903.3" y="1146.1">Královéhradecký kraj</text><text x="903.3" y="1164.2">Liberecký kraj</text><text x="903.3" y="1182.3">Zlínský kraj</text><text x="903.3" y="1200.4">Jihočeský kraj</text><text x="903.3" y="1218.4">Moravskoslezský kraj</text><text x="903.3" y="1236.5">Pardubický kraj</text><text x="903.3" y="1254.6">Plzeňský kraj</text><text x="903.3" y="1272.6">Ústecký kraj</text><text x="903.3" y="1290.7">Kraj Vysočina</text><text x="903.3" y="1308.8">Středočeský kraj</text><text x="903.3" y="1326.8">Jihomoravský kraj</text><text x="903.3" y="1344.9">Hlavní město Praha</text>
</g>
<text x="1102.4" y="1110">4,7</text><text x="1092.8" y="1128.1">4,4</text><text x="1092" y="1146.1">4,4</text><text x="1084" y="1164.2">4,2</text><text x="1083.6" y="1182.3">4,2</text><text x="1078.2" y="1200.4">4,1</text><text x="1077.9" y="1218.4">4,1</text><text x="1074" y="1236.5">4,0</text><text x="1073.6" y="1254.6">4,0</text><text x="1069.8" y="1272.6">3,8</text><text x="1069.4" y="1290.7">3,8</text><text x="1063.3" y="1308.8">3,7</text><text x="1054.9" y="1326.8">3,5</text><text x="1031.5" y="1344.9">2,8</text>
<text x="911.5" y="1357.3" text-anchor="middle">0</text><text x="1103.2" y="1357.3" text-anchor="middle">5</text>
</g>

<!-- PRAHA A REGIONY -->
<text x="33.6" y="1402.5" font-size="20.5" font-weight="bold" fill="#e2001a" textLength="160.4" lengthAdjust="spacingAndGlyphs">Praha a regiony</text>
<rect x="26" y="1414.4" width="354.5" height="2.7" fill="#0a3b76"/>
<rect x="397.7" y="1414.4" width="364.8" height="2.7" fill="#0a3b76"/>
<rect x="782" y="1414.4" width="363.4" height="2.7" fill="#0a3b76"/>

<rect x="30.6" y="1430.4" width="29.8" height="24" fill="#e2001a"/>
<rect x="60.4" y="1430.4" width="319.4" height="24" fill="#1a92ca"/>
<rect x="401.4" y="1428.7" width="20.2" height="24" fill="#e2001a"/>
<rect x="421.6" y="1428.7" width="338" height="24" fill="#1a92ca"/>
<rect x="786.5" y="1427" width="146.2" height="24.5" fill="#e2001a"/>
<rect x="932.7" y="1427" width="207.3" height="24.5" fill="#1a92ca"/>
<g font-size="10.5" fill="#fff" text-anchor="middle">
<text x="220" y="1446.5">91,33%</text>
<text x="591" y="1444.8">94,58%</text>
<text x="858" y="1443">2,84</text>
<text x="1035.7" y="1443">4,05</text>
</g>
<text x="1140" y="1469.5" font-size="10.5" fill="#173f74" text-anchor="end" textLength="237">Zdroj: Statistiky HUZ, Český statistický úřad, 2020</text>
<text x="31.3" y="1478.6" font-size="10" font-weight="bold" fill="#173f74">Legenda</text>
<circle cx="87" cy="1475" r="4.5" fill="#e2001a"/>
<text x="92.5" y="1478.6" font-size="10" fill="#173f74">Praha</text>
<circle cx="131.5" cy="1475" r="4.5" fill="#1a92ca"/>
<text x="137.3" y="1478.6" font-size="10" fill="#173f74">Regiony mimo Prahu</text>

<!-- LOGO -->
<text x="31.3" y="1538" font-size="29" font-weight="bold" fill="#e2001a" textLength="77" lengthAdjust="spacingAndGlyphs">Czech</text>
<text x="108.3" y="1538" font-size="29" font-weight="bold" fill="#0a3b76" textLength="97.7" lengthAdjust="spacingAndGlyphs">Tourism</text>
<rect x="31.3" y="1541" width="77" height="2.5" fill="#e2001a"/>
</svg>
</body></html>
